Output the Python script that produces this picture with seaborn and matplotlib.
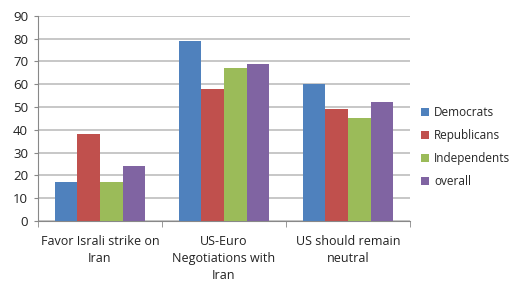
import matplotlib.pyplot as plt
import seaborn as sns
import pandas as pd

# ----- datos -----
categories = ["Favor Israli strike on\nIran", "US-Euro\nNegotiations with\nIran", "US should remain\nneutral"]
groups = ["Democrats", "Republicans", "Independents", "overall"]
democrats = [17, 79, 60]
republicans = [38, 58, 49]
independents = [17, 67, 45]
overall = [24, 69, 52]
colors = ["#4F81BD", "#C0504D", "#9BBB59", "#8064A2"]

series = [democrats, republicans, independents, overall]
rows = []
for g, vals in zip(groups, series):
    for c, v in zip(categories, vals):
        rows.append({"cat": c, "group": g, "value": v})
df = pd.DataFrame(rows)

sns.set_style("white")
plt.rcParams['font.family'] = ['Open Sans', 'DejaVu Sans']

fig = plt.figure(figsize=(5.19, 2.81), dpi=100)
ax = fig.add_axes([0.073, 0.2135, 0.717, 0.73])

sns.barplot(data=df, x="cat", y="value", hue="group", palette=colors,
            width=0.73, saturation=1, linewidth=0, ax=ax, zorder=3)

ax.set_ylim(0, 90)
ax.set_yticks(range(0, 91, 10))
ax.set_xlim(-0.5, 2.5)
ax.yaxis.grid(True, color="#b8b8b8", linewidth=1.1, zorder=0)
ax.set_axisbelow(True)
ax.set_xlabel("")
ax.set_ylabel("")

for s in ["top", "right"]:
    ax.spines[s].set_visible(False)
for s in ["left", "bottom"]:
    ax.spines[s].set_color("#888888")
    ax.spines[s].set_linewidth(0.8)

ax.tick_params(axis="y", labelsize=9.5, colors="#222222", length=3, color="#888888", direction="out", left=True, pad=4)
ax.tick_params(axis="x", labelsize=9, colors="#222222", length=0, pad=10)
ax.set_xticks([-0.5, 0.5, 1.5, 2.5], minor=True)
ax.tick_params(axis="x", which="minor", length=4, color="#888888", bottom=True)
for lbl in ax.get_xticklabels():
    lbl.set_linespacing(1.4)

ax.legend(loc="center left", bbox_to_anchor=(1.0, 0.36), frameon=False,
          fontsize=8.5, handlelength=0.7, handleheight=0.7, handletextpad=0.45,
          labelspacing=0.85)

plt.savefig("out.png", dpi=100)
plt.close()
